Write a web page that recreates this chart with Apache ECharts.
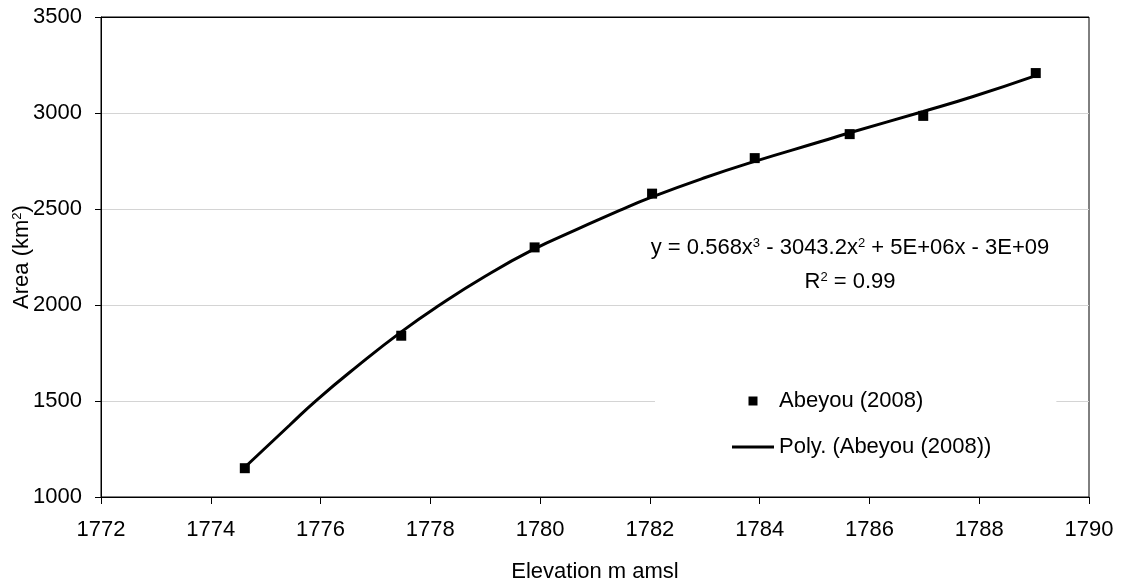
<!DOCTYPE html>
<html>
<head>
<meta charset="utf-8">
<script src="https://cdn.jsdelivr.net/npm/echarts@6/dist/echarts.min.js"></script>
<style>
  html, body { margin: 0; padding: 0; background: #fff; }
  #chart { width: 1123px; height: 585px; }
</style>
</head>
<body>
<div id="chart"></div>
<script>
  // measured points (Abeyou 2008)
  const elevation = [1774.62, 1777.47, 1779.9, 1782.04, 1783.91, 1785.64, 1786.98, 1789.03]
  const area = [1150, 1840, 2300, 2580, 2765, 2890, 2985, 3208]

  // polynomial trend line
  const trendElevation = [1774.62, 1775.44, 1775.93, 1776.66, 1777.47, 1778.17, 1779.0, 1779.87, 1780.66,
    1781.45, 1782.03, 1782.97, 1783.91, 1785.1, 1785.64, 1786.98, 1787.89, 1789.03]
  const trendArea = [1155, 1375, 1505, 1679, 1860, 2000, 2150, 2288, 2392,
    2493, 2562, 2660, 2748, 2850, 2897, 3008, 3086, 3195]

  const seriesNames = ['Abeyou (2008)', 'Poly. (Abeyou (2008))']
  const equationText = 'y = 0.568x{sup|3} - 3043.2x{sup|2} + 5E+06x - 3E+09'
  const r2Text = 'R{sup|2} = 0.99'

  const font = 'Liberation Sans, Arial, sans-serif'
  const supStyle = { fontSize: 13, lineHeight: 13, verticalAlign: 'top', fontFamily: font, color: '#000' }

  const myChart = echarts.init(document.getElementById('chart'))

  const option = {
    animation: false,
    textStyle: { fontFamily: font },
    grid: {
      left: 101, right: 34, top: 17, bottom: 88,
      show: true, borderColor: '#000', borderWidth: 1,
      containLabel: false,
      outerBoundsMode: 'none'
    },
    xAxis: {
      type: 'value',
      min: 1772, max: 1790, interval: 2,
      name: 'Elevation m amsl',
      nameLocation: 'middle',
      nameGap: 64,
      nameMoveOverlap: false,
      nameTextStyle: { fontSize: 22, color: '#000', fontFamily: font },
      axisLine: { show: true, onZero: false, lineStyle: { color: '#000', width: 1 } },
      axisTick: { show: true, inside: false, length: 7, lineStyle: { color: '#000' } },
      axisLabel: { fontSize: 22, color: '#000', margin: 22, fontFamily: font, formatter: v => String(v) },
      splitLine: { show: false }
    },
    yAxis: {
      type: 'value',
      min: 1000, max: 3500, interval: 500,
      name: 'Area (km{sup|2})',
      nameLocation: 'middle',
      nameGap: 68,
      nameRotate: 90,
      nameMoveOverlap: false,
      nameTextStyle: {
        fontSize: 22, color: '#000', fontFamily: font,
        rich: { sup: supStyle }
      },
      axisLine: { show: true, onZero: false, lineStyle: { color: '#000', width: 1 } },
      axisTick: { show: true, inside: false, length: 6, lineStyle: { color: '#000' } },
      axisLabel: { fontSize: 22, color: '#000', margin: 19, fontFamily: font, formatter: v => String(v) },
      splitLine: {
        show: true,
        lineStyle: { color: ['#000', '#d4d4d4', '#d4d4d4', '#d4d4d4', '#d4d4d4', '#000'], width: 1 }
      }
    },
    legend: {
      orient: 'vertical',
      left: 655,
      top: 370,
      padding: [20, 65, 20, 77],
      backgroundColor: '#fff',
      itemWidth: 42,
      itemHeight: 9,
      itemGap: 24,
      symbolKeepAspect: true,
      textStyle: { fontSize: 22, color: '#000', fontFamily: font },
      data: [
        { name: seriesNames[0], icon: 'path://M0,0h9v9h-9z', itemStyle: { color: '#000', opacity: 1 } },
        { name: seriesNames[1], icon: 'path://M0,0h42v3h-42z', itemStyle: { color: '#000', opacity: 1 } }
      ]
    },
    graphic: [
      {
        type: 'text', x: 850, y: 248, z: 10,
        style: {
          text: equationText, fontSize: 22, fontFamily: font, fill: '#000',
          align: 'center', verticalAlign: 'middle',
          rich: { sup: supStyle }
        }
      },
      {
        type: 'text', x: 850, y: 282, z: 10,
        style: {
          text: r2Text, fontSize: 22, fontFamily: font, fill: '#000',
          align: 'center', verticalAlign: 'middle',
          rich: { sup: supStyle }
        }
      }
    ],
    series: [
      {
        name: seriesNames[0],
        type: 'scatter',
        symbol: 'rect',
        symbolSize: 10,
        itemStyle: { color: '#000', opacity: 1 },
        z: 3,
        data: elevation.map((x, i) => [x, area[i]])
      },
      {
        name: seriesNames[1],
        type: 'line',
        smooth: true,
        symbol: 'none',
        lineStyle: { color: '#000', width: 3 },
        itemStyle: { color: '#000' },
        z: 2,
        data: trendElevation.map((x, i) => [x, trendArea[i]])
      }
    ]
  }

  myChart.setOption(option)
</script>
</body>
</html>
